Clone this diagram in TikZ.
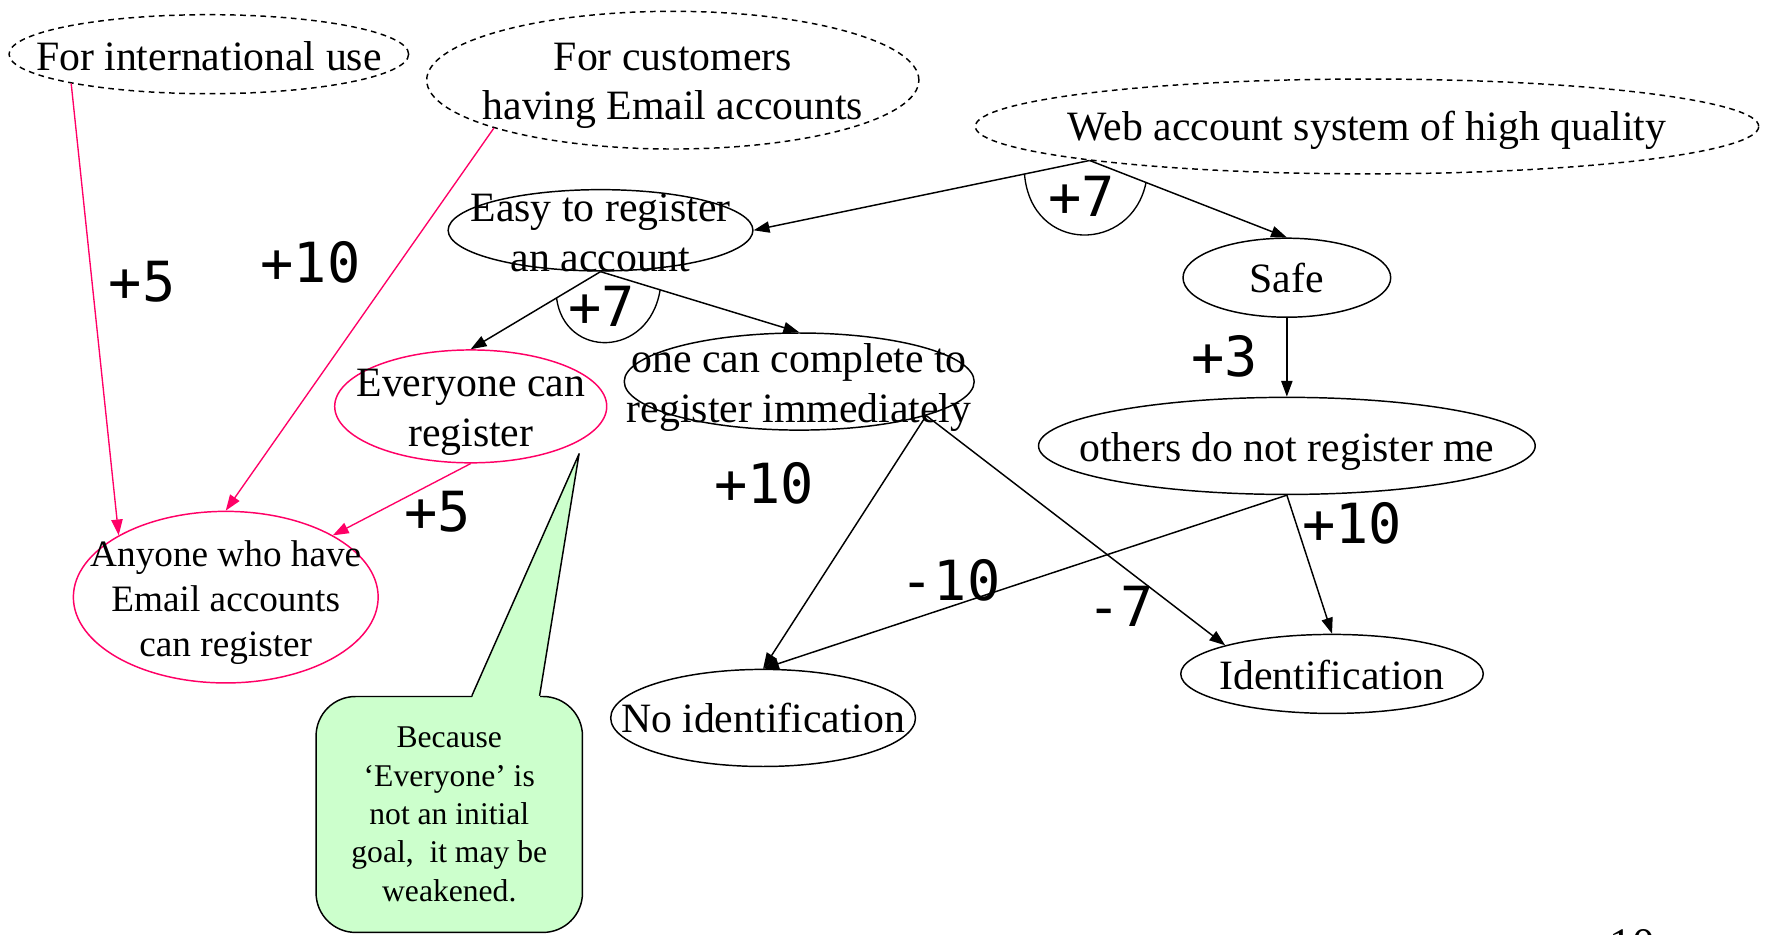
\documentclass[tikz,border=0pt]{standalone}
\usepackage{fontspec}
\setmainfont{Liberation Serif}
\newfontfamily\scorefont{DejaVu Sans Mono}
\usetikzlibrary{arrows.meta,shapes.geometric}
\definecolor{goalpink}{RGB}{255,0,102}
\definecolor{notegreen}{RGB}{204,255,204}
\tikzset{
  goal/.style={draw, ellipse, inner sep=0pt, line width=1.3pt},
  softgoal/.style={goal, dash pattern=on 5pt off 4pt},
  pinkgoal/.style={goal, draw=goalpink},
  txt/.style={font=\fontsize{37}{44}\selectfont, align=center, inner sep=0pt},
  smalltxt/.style={font=\fontsize{33}{40}\selectfont, align=center, inner sep=0pt},
  notetxt/.style={font=\fontsize{28}{34}\selectfont, align=center},
  score/.style={font=\scorefont\fontsize{49}{49}\selectfont, inner sep=0pt},
  link/.style={line width=1.3pt, -{Triangle[length=14pt,width=10pt]}},
  pinklink/.style={link, draw=goalpink, line width=1.2pt},
  andarc/.style={line width=1.2pt},
}
\begin{document}
\begin{tikzpicture}[x=1pt,y=-1pt]
\useasboundingbox (0,0) rectangle (1568,828);
\clip (0,0) rectangle (1568,828);

% goals
\node[softgoal, minimum width=354pt, minimum height=70pt,
      label={[txt, yshift=-2pt]center:{For international use}}] (intl) at (185,48) {};
\node[softgoal, minimum width=436pt, minimum height=122pt,
      label={[txt, yshift=-5pt]center:{For customers\\having Email accounts}}] (cust) at (596,71) {};
\node[softgoal, minimum width=694pt, minimum height=84pt,
      label={[txt, yshift=-3pt]center:{Web account system of high quality}}] (web) at (1211,112) {};
\node[goal, minimum width=270pt, minimum height=72pt,
      label={[txt, yshift=-2pt]center:{Easy to register\\an account}}] (easy) at (532,204) {};
\node[goal, minimum width=184pt, minimum height=70pt,
      label={[txt]center:{Safe}}] (safe) at (1140,246) {};
\node[pinkgoal, minimum width=241pt, minimum height=100pt,
      label={[txt, yshift=-5pt]center:{Everyone can\\register}}] (every) at (417,360) {};
\node[goal, minimum width=310pt, minimum height=86pt,
      label={[txt, yshift=-5pt]center:{one can complete to\\register immediately}}] (onecan) at (708,338) {};
\node[goal, minimum width=440pt, minimum height=86pt,
      label={[txt, yshift=-5pt]center:{others do not register me}}] (others) at (1140,395) {};
\node[pinkgoal, minimum width=270pt, minimum height=152pt,
      label={[smalltxt, yshift=-5pt]center:{Anyone who have\\Email accounts\\can register}}] (anyone) at (200,529) {};
\node[goal, minimum width=270pt, minimum height=86pt,
      label={[txt]center:{No identification}}] (noid) at (676,636) {};
\node[goal, minimum width=268pt, minimum height=70pt,
      label={[txt, yshift=-1pt]center:{Identification}}] (ident) at (1180,597) {};

% note with its pointer
\node[draw, fill=notegreen, line width=1.3pt, rounded corners=35pt,
      minimum width=236pt, minimum height=209pt, notetxt] (note) at (398,721.5)
  {Because\\‘Everyone’ is\\not an initial\\goal,\ \ it may be\\weakened.};
\coordinate (tip) at (513,402);
\fill[notegreen] ([shift={(20,2)}]note.north) -- (tip) -- ([shift={(80,2)}]note.north) -- cycle;
\draw[line width=1.3pt, line join=round] ([xshift=20pt]note.north) -- (tip) -- ([xshift=80pt]note.north);

% contributions
\draw[pinklink] (intl.192) -- (anyone.150);
\draw[pinklink] (cust.195) -- (anyone.north);
\draw[pinklink] (every.south) -- (anyone.30);
\draw[link] (web.187) -- (easy.east);
\draw[link] (web.187) -- (safe.north);
\draw[link] (easy.south) -- (every.north);
\draw[link] (easy.south) -- (onecan.north);
\draw[link] (safe.south) -- (others.north);
\draw[link] (onecan.345) -- (noid.north);
\draw[link] (onecan.345) -- (ident.165);
\draw[link] (others.south) -- (noid.north);
\draw[link] (others.south) -- (ident.north);

% AND decompositions
\path (web.187) -- (easy.east) coordinate[pos=0.194] (andWL);
\path (web.187) -- (safe.north) coordinate[pos=0.286] (andWR);
\draw[andarc] (andWL) .. controls +(6,71) and +(-13,63) .. (andWR);
\path (easy.south) -- (every.north) coordinate[pos=0.339] (andEL);
\path (easy.south) -- (onecan.north) coordinate[pos=0.30] (andER);
\draw[andarc] (andEL) .. controls +(7,54) and +(-10,61) .. (andER);

% weights
\node[score] (w1) at (126,250) {+5};
\node[score] (w2) at (275,232) {+10};
\node[score] (w3) at (388,453) {+5};
\node[score] (w4) at (958,174) {+7};
\node[score] (w5) at (533,271) {+7};
\node[score] (w6) at (1085,316) {+3};
\node[score] (w7) at (677,428) {+10};
\node[score] (w8) at (842,514) {-10};
\node[score] (w9) at (993,537) {-7};
\node[score] (w10) at (1198,464) {+10};

% page number
\node[anchor=base, font=\fontsize{40}{40}\selectfont, inner sep=0pt] (page) at (1446,850) {10};
\end{tikzpicture}
\end{document}
